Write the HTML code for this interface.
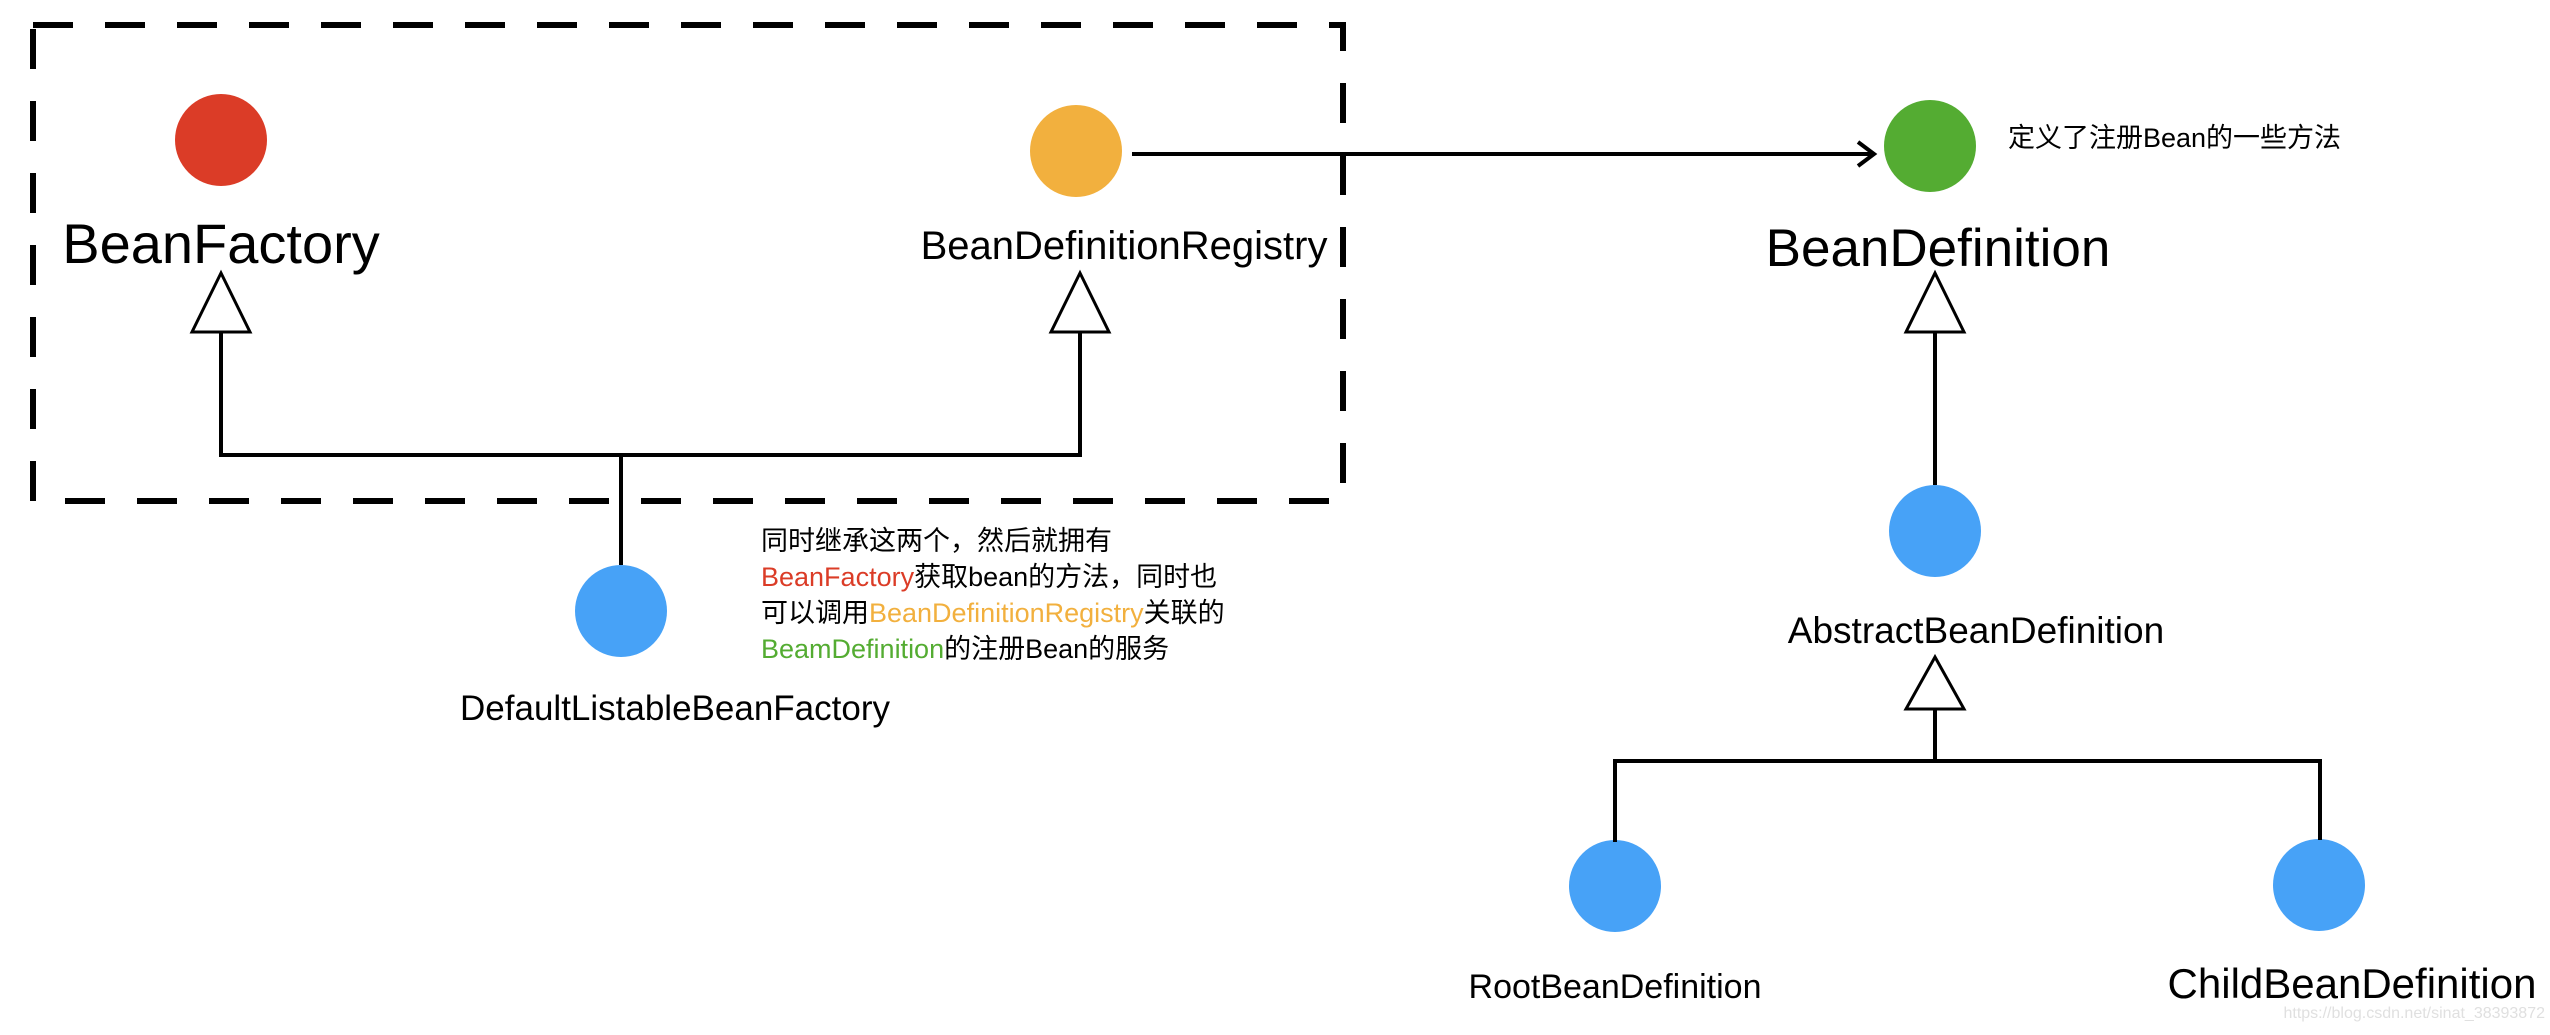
<!DOCTYPE html>
<html><head><meta charset="utf-8"><style>
html,body{margin:0;padding:0;background:#fff;}
svg text{font-family:"Liberation Sans","Noto Sans CJK SC",sans-serif;}
</style></head><body>
<svg width="2550" height="1030" viewBox="0 0 2550 1030" xmlns="http://www.w3.org/2000/svg">
<rect x="0" y="0" width="2550" height="1030" fill="#fff"/>
<rect x="33" y="25" width="1310" height="476" fill="none" stroke="#000" stroke-width="6" stroke-dasharray="40,32"/>
<circle cx="221" cy="140" r="46" fill="#DB3C27"/>
<circle cx="1076" cy="151" r="46" fill="#F2B03E"/>
<circle cx="1930" cy="146" r="46" fill="#54AC32"/>
<circle cx="621" cy="611" r="46" fill="#47A2F7"/>
<circle cx="1935" cy="531" r="46" fill="#47A2F7"/>
<circle cx="1615" cy="886" r="46" fill="#47A2F7"/>
<circle cx="2319" cy="885" r="46" fill="#47A2F7"/>
<g stroke="#000" stroke-width="4" fill="none">
<polyline points="221,332 221,455 1080,455 1080,332"/>
<line x1="621" y1="455" x2="621" y2="565"/>
<line x1="1132" y1="154" x2="1874" y2="154"/>
<polyline points="1858,142 1874,154 1858,166"/>
<line x1="1935" y1="332" x2="1935" y2="485"/>
<polyline points="1615,842 1615,761 2320,761 2320,840"/>
<line x1="1935" y1="709" x2="1935" y2="761"/>
</g>
<g stroke="#000" stroke-width="3" fill="#fff">
<polygon points="221,273 192,332 250,332"/>
<polygon points="1080,273 1051,332 1109,332"/>
<polygon points="1935,273 1906,332 1964,332"/>
<polygon points="1935,657 1906,709 1964,709"/>
</g>
<g fill="#000">
<text x="221" y="263" font-size="56" text-anchor="middle">BeanFactory</text>
<text x="1124" y="259" font-size="40" text-anchor="middle">BeanDefinitionRegistry</text>
<text x="1938" y="266" font-size="53" text-anchor="middle">BeanDefinition</text>
<text x="675" y="720" font-size="35" text-anchor="middle">DefaultListableBeanFactory</text>
<text x="1976" y="643" font-size="37" text-anchor="middle">AbstractBeanDefinition</text>
<text x="1615" y="998" font-size="34" text-anchor="middle">RootBeanDefinition</text>
<text x="2352" y="998" font-size="42" text-anchor="middle">ChildBeanDefinition</text>
<text x="2008" y="147" font-size="27">定义了注册Bean的一些方法</text>
<text x="761" y="550" font-size="27">同时继承这两个，然后就拥有</text>
<text x="761" y="586" font-size="27"><tspan fill="#DB3C27">BeanFactory</tspan>获取bean的方法，同时也</text>
<text x="761" y="622" font-size="27">可以调用<tspan fill="#F2B03E">BeanDefinitionRegistry</tspan>关联的</text>
<text x="761" y="658" font-size="27"><tspan fill="#54AC32">BeamDefinition</tspan>的注册Bean的服务</text>
</g>
<text x="2545" y="1018" font-size="16" fill="#e0e0e0" text-anchor="end">https://blog.csdn.net/sinat_38393872</text>
</svg>
</body></html>
